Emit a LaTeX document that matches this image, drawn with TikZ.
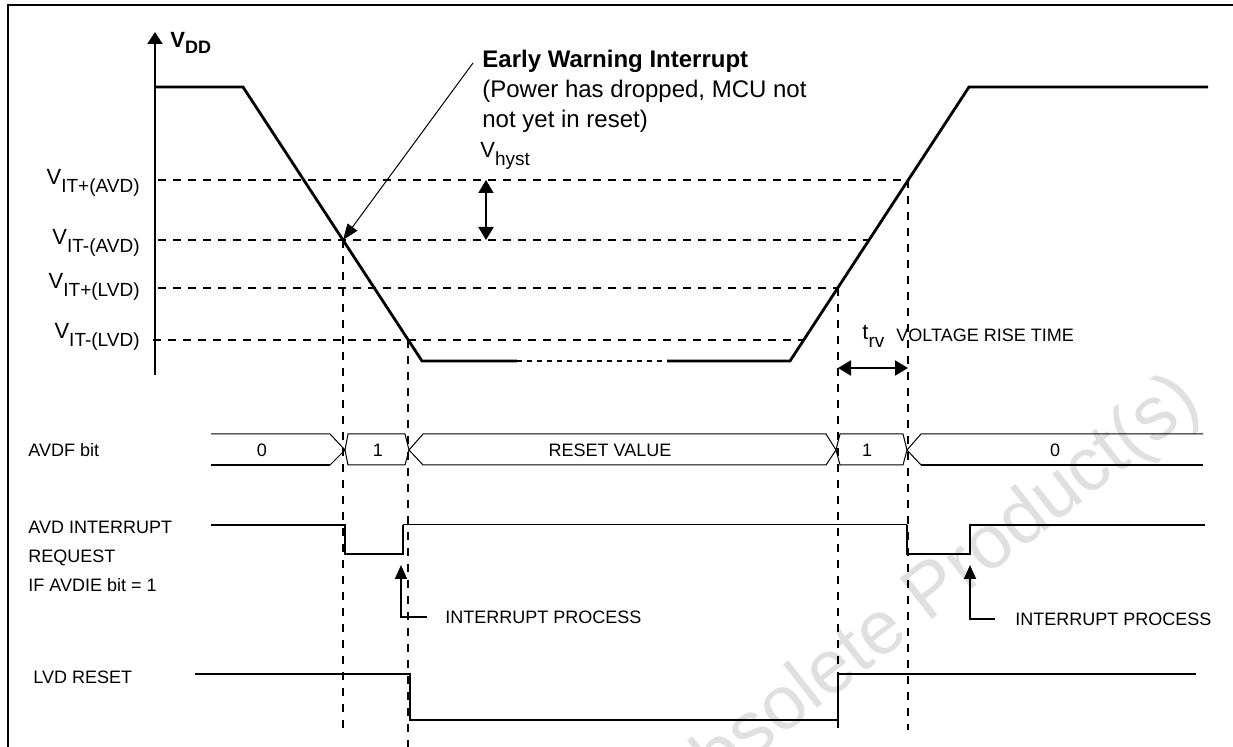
\documentclass[tikz,border=0pt]{standalone}
\usepackage{fontspec}
\setmainfont{Liberation Sans}
\usetikzlibrary{arrows.meta}

% signal name with subscript
\newcommand{\vname}[2]{{\fontsize{11}{12}\selectfont #1}\raisebox{-4pt}{\fontsize{9.5}{10}\selectfont #2}}

\begin{document}
\begin{tikzpicture}[x=0.5pt, y=-0.5pt,
  every node/.style={font=\fontsize{9}{11}\selectfont, inner sep=0pt},
  thr/.style={line width=0.9pt, dash pattern=on 4pt off 3.5pt},
  guide/.style={line width=0.9pt, dash pattern=on 4pt off 4pt},
  supply/.style={line width=1.4pt},
  wave/.style={line width=1.2pt},
  bus/.style={line width=0.5pt},
  arr/.style={line width=0.9pt, -{Triangle[length=7pt,width=6pt]}},
  dbl/.style={line width=1pt, {Triangle[length=6.5pt,width=7.5pt]}-{Triangle[length=6.5pt,width=7.5pt]}}]
  \useasboundingbox (0,0) rectangle (1233,747);

  % watermark
  \node[text=black!12, font=\fontsize{38}{42}\selectfont, rotate=38] (wm) at (925,600) {Obsolete Product(s)};

  % frame
  \draw[line width=1.2pt] (8,747) -- (8,5) -- (1233,5);

  % VDD axis
  \draw[line width=1pt, -{Triangle[length=6pt,width=7.5pt]}] (155,375) -- (155,32);
  \node[anchor=base west, font=\bfseries\fontsize{11}{12}\selectfont] (vdd) at (170,48)
    {V\raisebox{-3pt}{\fontsize{9}{10}\selectfont DD}};

  % crossing points
  \coordinate (fa) at (343,240);
  \coordinate (fb) at (408,340);
  \coordinate (rc) at (838,288);
  \coordinate (rd) at (908,180);

  % thresholds
  \node[anchor=base east] (vitpa) at (140,185) {\vname{V}{IT+(AVD)}};
  \node[anchor=base east] (vitma) at (140,245) {\vname{V}{IT-(AVD)}};
  \node[anchor=base east] (vitpl) at (140,289) {\vname{V}{IT+(LVD)}};
  \node[anchor=base east] (vitml) at (140,339) {\vname{V}{IT-(LVD)}};
  \draw[thr] (158,180) -- (rd);
  \draw[thr] (158,240) -- (869,240);
  \draw[thr] (158,288) -- (rc);
  \draw[thr] (153,340) -- (804,340);

  % VDD curve
  \draw[supply] (155,87) -- (243,87) -- (422,361) -- (517,361);
  \draw[supply, dash pattern=on 2.5pt off 2.5pt] (517,361) -- (667,361);
  \draw[supply] (667,361) -- (790,361) -- (969,87) -- (1208,87);

  % hysteresis
  \node[anchor=base west] (vhyst) at (480,158) {\vname{V}{hyst}};
  \draw[dbl] (486,180) -- (486,240);

  % early warning
  \node[anchor=north west, align=left, font=\fontsize{12}{15}\selectfont] (ewi) at (482,50)
    {\textbf{Early Warning Interrupt}\\(Power has dropped, MCU not\\not yet in reset)};
  \draw[arr, line width=0.5pt, -{Triangle[length=8pt,width=6pt]}]
    ([shift={(-4.5pt,-6.5pt)}]ewi.north west) -- (fa);

  % guides
  \draw[guide] (fa) -- ++(0,490);
  \draw[guide] (fb) -- ++(0,407);
  \draw[guide] (rc) -- ++(0,442);
  \draw[guide] (rd) -- ++(0,550);

  % rise time
  \node[anchor=base west] (trv) at (862,340) {\vname{t}{rv}};
  \node[anchor=base west] (vrt) at (896,342) {VOLTAGE RISE TIME};
  \draw[dbl] (838,368) -- (908,368);

  % AVDF bit
  \node[anchor=west] (avdf) at (28,450) {AVDF bit};
  \draw[bus] (211,434) -- (330,434) -- (345,450) -- (330,465);
  \draw[line width=1pt] (330,465) -- (211,465);
  \draw[bus] (345,450) -- (348,434) -- (405,434) -- (409,450) -- (405,465) -- (348,465) -- cycle;
  \draw[bus] (409,450) -- (423,434) -- (826,434) -- (836,450) -- (826,465) -- (423,465) -- cycle;
  \draw[bus] (836,450) -- (840,434) -- (903,434) -- (907,450) -- (903,465) -- (840,465) -- cycle;
  \draw[bus] (1203,434) -- (921,434) -- (907,450) -- (921,465);
  \draw[line width=1pt] (921,465) -- (1203,465);
  \node (b0a) at (262,450) {0};
  \node (b1a) at (378,450) {1};
  \node (brst) at (610,450) {RESET VALUE};
  \node (b1b) at (867,450) {1};
  \node (b0b) at (1055,450) {0};

  % AVD interrupt request
  \node[anchor=north west, align=left, font=\fontsize{9}{14.5}\selectfont] (avdi) at (28,521)
    {AVD INTERRUPT\\REQUEST\\IF AVDIE bit = 1};
  \draw[wave] (211,525) -- (345,525) -- (345,554) -- (403,554) -- (403,525);
  \draw[bus] (403,525) -- (907,525);
  \draw[wave] (907,525) -- (907,554) -- (970,554) -- (970,525) -- (1205,525);

  % interrupt process
  \node[anchor=west] (ip1) at (445,617) {INTERRUPT PROCESS};
  \draw[arr] ([xshift=-9pt]ip1.west) -| (401,565);
  \node[anchor=west] (ip2) at (1015,619) {INTERRUPT PROCESS};
  \draw[arr] ([xshift=-10pt]ip2.west) -| (970,565);

  % LVD reset
  \node[anchor=west] (lvd) at (33,677) {LVD RESET};
  \draw[wave] (195,674) -- (410,674) -- (410,720) -- (838,720) -- (838,674) -- (1196,674);
\end{tikzpicture}
\end{document}
